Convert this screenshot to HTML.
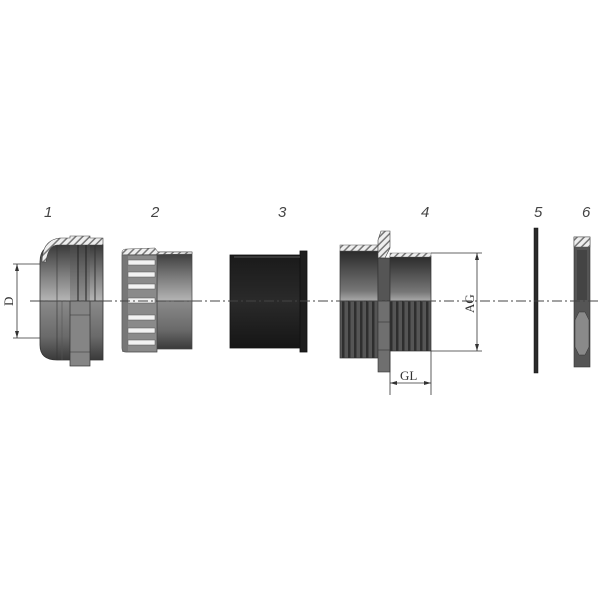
<!DOCTYPE html>
<html><head><meta charset="utf-8"><style>
html,body{margin:0;padding:0;background:#fff;}
svg{display:block}
text{font-family:"Liberation Serif",serif;fill:#333}
.n{font-family:"Liberation Sans",sans-serif;font-style:italic;font-size:15px;fill:#444}
</style></head><body>
<svg width="600" height="600" viewBox="0 0 600 600" xmlns="http://www.w3.org/2000/svg">
<defs>
<linearGradient id="gt" x1="0" y1="0" x2="0" y2="1">
<stop offset="0" stop-color="#3a3a3a"/><stop offset="0.5" stop-color="#7a7a7a"/><stop offset="1" stop-color="#b5b5b5"/>
</linearGradient>
<linearGradient id="gb" x1="0" y1="0" x2="0" y2="1">
<stop offset="0" stop-color="#8a8a8a"/><stop offset="0.6" stop-color="#6a6a6a"/><stop offset="1" stop-color="#3a3a3a"/>
</linearGradient>
<linearGradient id="gd" x1="0" y1="0" x2="0" y2="1">
<stop offset="0" stop-color="#1a1a1a"/><stop offset="0.5" stop-color="#2a2a2a"/><stop offset="1" stop-color="#151515"/>
</linearGradient>
<linearGradient id="g4" x1="0" y1="0" x2="0" y2="1">
<stop offset="0" stop-color="#2a2a2a"/><stop offset="0.8" stop-color="#777"/><stop offset="1" stop-color="#aaa"/>
</linearGradient>
<pattern id="hat" width="5" height="5" patternUnits="userSpaceOnUse" patternTransform="rotate(45)">
<rect width="5" height="5" fill="#eee"/><rect width="1.5" height="5" fill="#777"/>
</pattern>
<pattern id="thr" width="6" height="10" patternUnits="userSpaceOnUse">
<rect width="6" height="10" fill="#555"/><rect width="2.5" height="10" fill="#2e2e2e"/>
</pattern>
</defs>

<text class="n" x="44" y="217">1</text>
<text class="n" x="151" y="217">2</text>
<text class="n" x="278" y="217">3</text>
<text class="n" x="421" y="217">4</text>
<text class="n" x="534" y="217">5</text>
<text class="n" x="582" y="217">6</text>

<!-- Part 1 -->
<path d="M57,245 L103,245 L103,301 L40,301 L40,262 Q40,245 57,245 Z" fill="url(#gt)" stroke="#333" stroke-width="0.8"/>
<path d="M40,301 L103,301 L103,360 L57,360 Q40,360 40,345 Z" fill="url(#gb)" stroke="#333" stroke-width="0.8"/>
<path d="M42,262 Q42,240 60,238 L70,238 L70,236 L90,236 L90,238 L103,238 L103,245 L57,245 Q48,246 46,262 Z" fill="url(#hat)" stroke="#444" stroke-width="0.6"/>
<rect x="70" y="245" width="20" height="56" fill="#555" opacity="0.35"/>
<line x1="78" y1="245" x2="78" y2="301" stroke="#222" stroke-width="1"/>
<line x1="86" y1="245" x2="86" y2="301" stroke="#222" stroke-width="1"/>
<line x1="95" y1="245" x2="95" y2="301" stroke="#333" stroke-width="1"/>
<line x1="57" y1="245" x2="57" y2="360" stroke="#333" stroke-width="0.6"/>
<rect x="70" y="301" width="20" height="65" fill="#858585" stroke="#333" stroke-width="0.7"/>
<line x1="70" y1="315" x2="90" y2="315" stroke="#333" stroke-width="0.6"/>
<line x1="70" y1="352" x2="90" y2="352" stroke="#333" stroke-width="0.6"/>
<line x1="62" y1="301" x2="62" y2="360" stroke="#555" stroke-width="0.6"/>
<line x1="13" y1="264" x2="40" y2="264" stroke="#333" stroke-width="0.8"/>
<line x1="13" y1="338" x2="40" y2="338" stroke="#333" stroke-width="0.8"/>
<line x1="17" y1="264" x2="17" y2="338" stroke="#333" stroke-width="0.8"/>
<path d="M17,264 l-2,7 l4,0 z M17,338 l-2,-7 l4,0 z" fill="#333"/>
<text x="0" y="0" font-size="13" transform="translate(13,306) rotate(-90)">D</text>

<!-- Part 2 -->
<rect x="157" y="252" width="35" height="49" fill="url(#gt)" stroke="#444" stroke-width="0.7"/>
<rect x="157" y="301" width="35" height="48" fill="url(#gb)" stroke="#444" stroke-width="0.7"/>
<path d="M122,252 Q122,249 127,249 L155,248 L158,252 L192,252 L192,254 L122,255 Z" fill="url(#hat)" stroke="#555" stroke-width="0.5"/>
<path d="M122,255 L157,255 L157,352 L126,352 Q122,352 122,348 Z" fill="#8a8a8a" stroke="#444" stroke-width="0.7"/>
<g fill="#f2f2f2" stroke="#555" stroke-width="0.5">
<rect x="128" y="260" width="27" height="5"/>
<rect x="128" y="272" width="27" height="5"/>
<rect x="128" y="284" width="27" height="5"/>
<rect x="128" y="298" width="27" height="5"/>
<rect x="128" y="315" width="27" height="5"/>
<rect x="128" y="328" width="27" height="5"/>
<rect x="128" y="340" width="27" height="5"/>
</g>
<rect x="122" y="255" width="6" height="97" fill="#6a6a6a" opacity="0.6"/>

<!-- Part 3 -->
<rect x="230" y="255" width="72" height="93" fill="url(#gd)" stroke="#111" stroke-width="0.8"/>
<rect x="300" y="251" width="7" height="101" fill="#1e1e1e" stroke="#111" stroke-width="0.8"/>
<line x1="234" y1="257" x2="300" y2="257" stroke="#555" stroke-width="1"/>

<!-- Part 4 -->
<rect x="340" y="251" width="38" height="50" fill="url(#g4)" stroke="#333" stroke-width="0.7"/>
<rect x="340" y="245" width="38" height="6" fill="url(#hat)" stroke="#555" stroke-width="0.5"/>
<rect x="340" y="301" width="38" height="57" fill="url(#thr)" stroke="#333" stroke-width="0.7"/>
<path d="M381,231 L390,231 L390,248 L385,258 L378,258 L378,240 Z" fill="url(#hat)" stroke="#444" stroke-width="0.6"/>
<rect x="378" y="258" width="12" height="43" fill="#555" stroke="#333" stroke-width="0.6"/>
<rect x="378" y="301" width="12" height="71" fill="#6f6f6f" stroke="#333" stroke-width="0.6"/>
<line x1="378" y1="322" x2="390" y2="322" stroke="#333" stroke-width="0.6"/>
<line x1="378" y1="350" x2="390" y2="350" stroke="#333" stroke-width="0.6"/>
<rect x="390" y="256" width="41" height="45" fill="url(#g4)" stroke="#333" stroke-width="0.7"/>
<rect x="390" y="253" width="41" height="4" fill="url(#hat)" stroke="#555" stroke-width="0.4"/>
<rect x="390" y="301" width="41" height="50" fill="url(#thr)" stroke="#333" stroke-width="0.7"/>
<line x1="431" y1="253" x2="482" y2="253" stroke="#333" stroke-width="0.8"/>
<line x1="431" y1="351" x2="482" y2="351" stroke="#333" stroke-width="0.8"/>
<line x1="477" y1="253" x2="477" y2="351" stroke="#333" stroke-width="0.8"/>
<path d="M477,253 l-2,7 l4,0 z M477,351 l-2,-7 l4,0 z" fill="#333"/>
<text x="0" y="0" font-size="13" transform="translate(474,313) rotate(-90)">AG</text>
<line x1="390" y1="351" x2="390" y2="395" stroke="#333" stroke-width="0.8"/>
<line x1="431" y1="351" x2="431" y2="395" stroke="#333" stroke-width="0.8"/>
<line x1="390" y1="383" x2="431" y2="383" stroke="#333" stroke-width="0.8"/>
<path d="M390,383 l7,-2 l0,4 z M431,383 l-7,-2 l0,4 z" fill="#333"/>
<text x="400" y="380" font-size="13">GL</text>

<!-- Part 5 -->
<rect x="534" y="228" width="4" height="145" fill="#2a2a2a" stroke="#111" stroke-width="0.5"/>

<!-- Part 6 -->
<rect x="574" y="237" width="16" height="130" fill="#555" stroke="#333" stroke-width="0.6"/>
<rect x="574" y="237" width="16" height="10" fill="url(#hat)" stroke="#555" stroke-width="0.5"/>
<rect x="577" y="250" width="10" height="50" fill="#444"/>
<path d="M575,320 L579,312 L585,312 L589,320 L589,347 L585,355 L579,355 L575,347 Z" fill="#8a8a8a" stroke="#333" stroke-width="0.5"/>

<line x1="30" y1="301" x2="600" y2="301" stroke="#444" stroke-width="1" stroke-dasharray="10,3,2,3"/>
</svg>
</body></html>
